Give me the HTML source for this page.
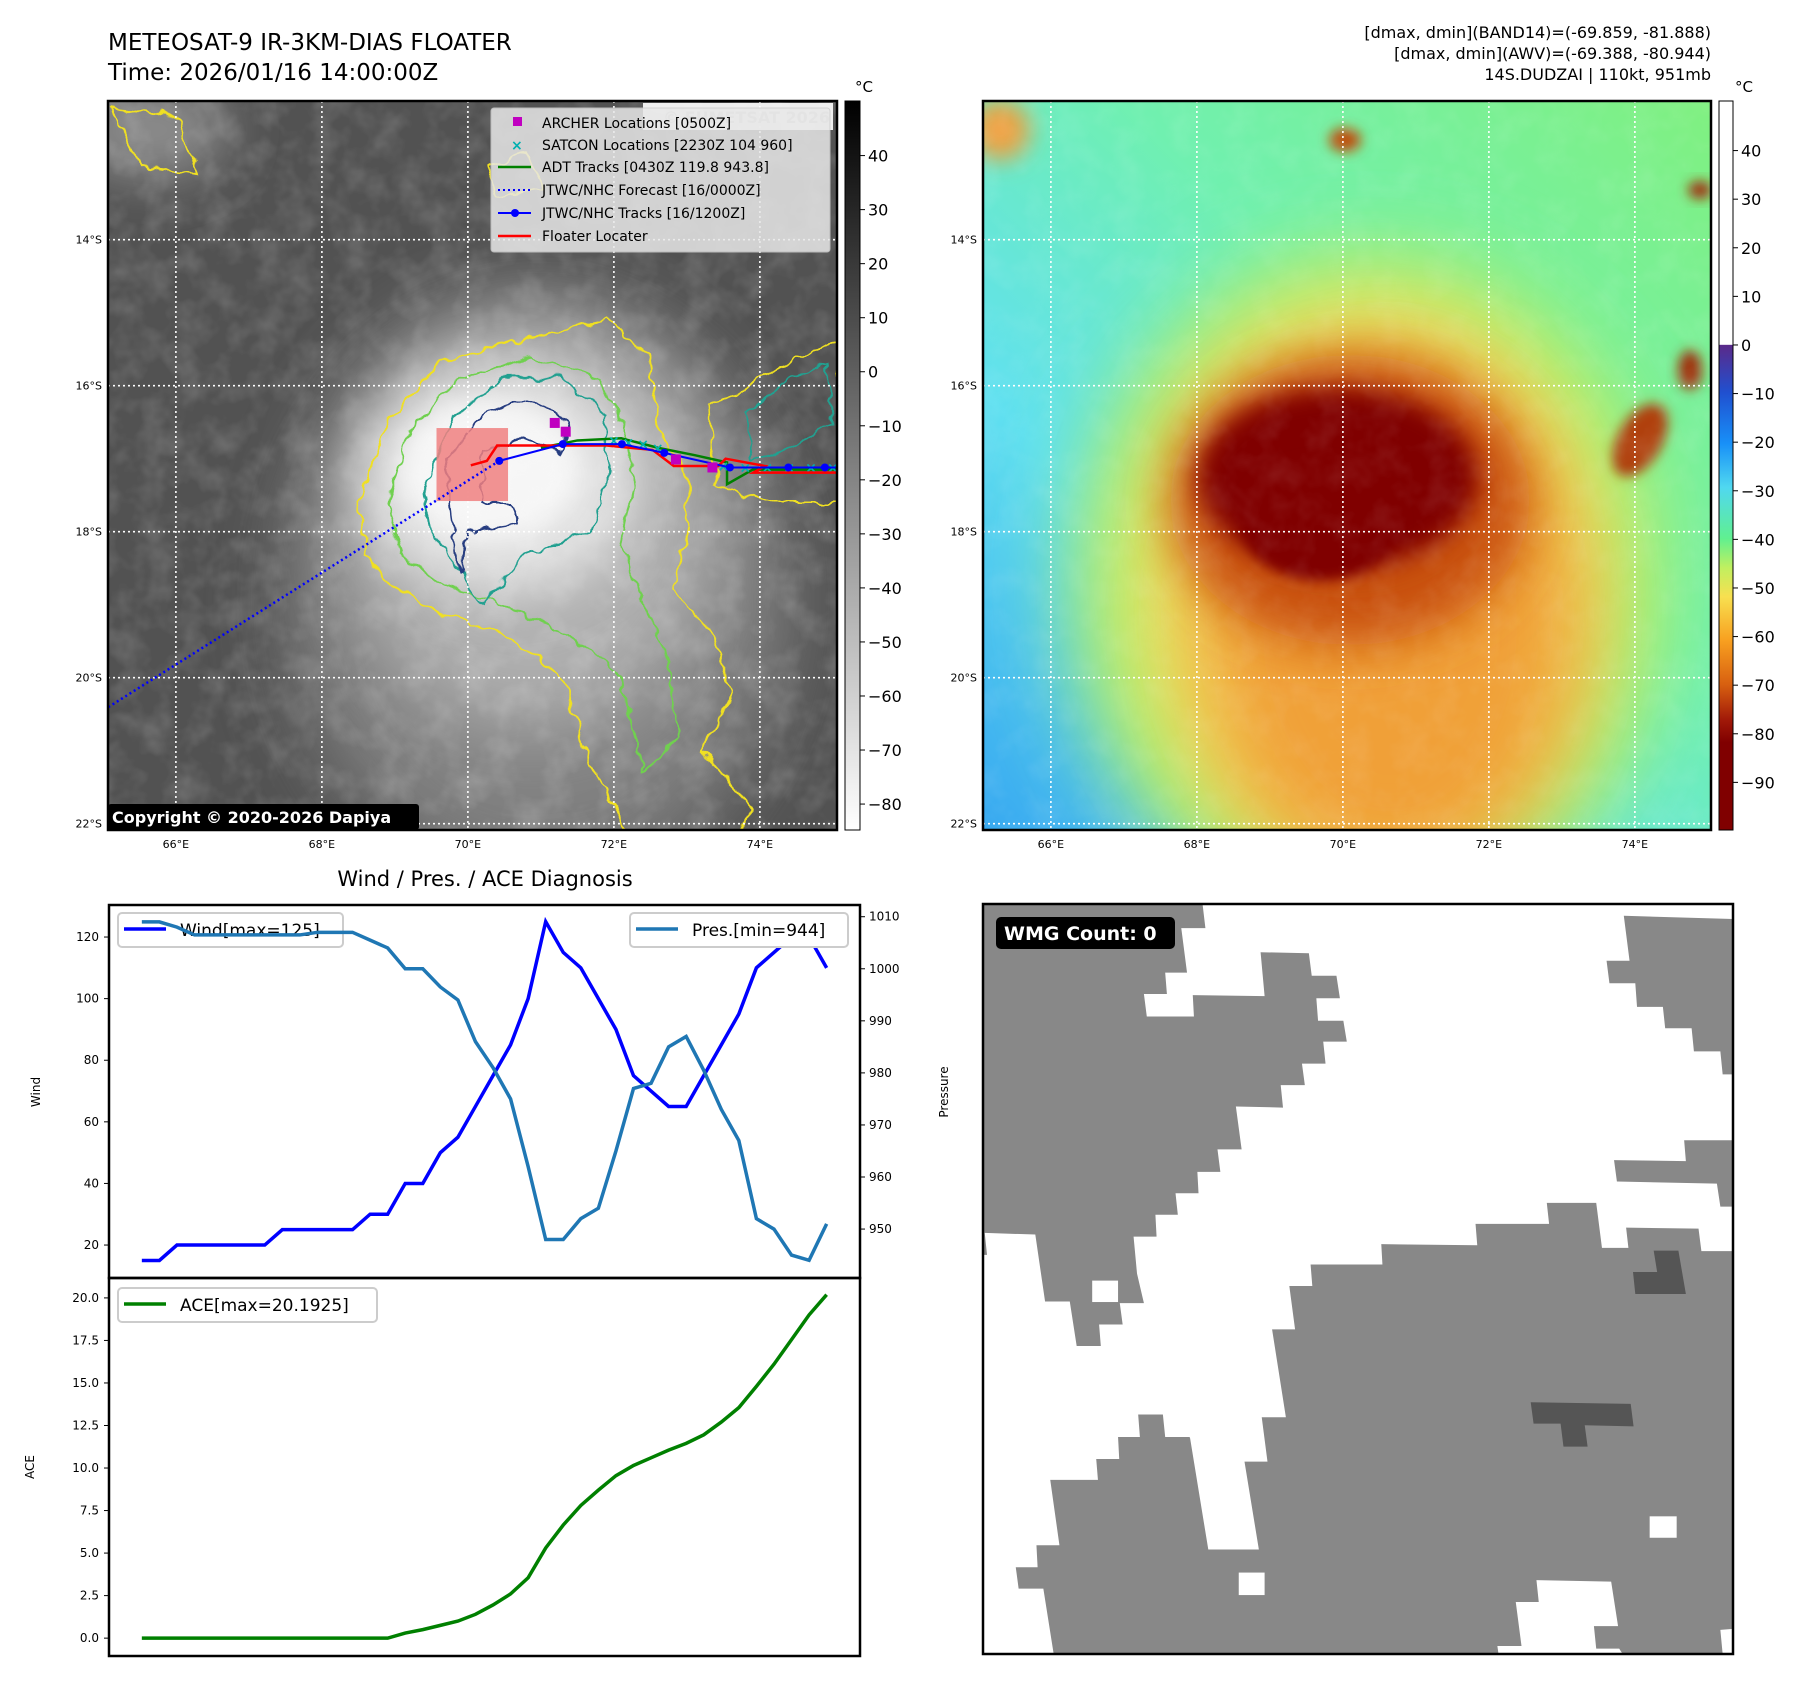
<!DOCTYPE html>
<html><head><meta charset="utf-8">
<style>
html,body{margin:0;padding:0;background:#fff;}
svg{display:block;font-family:"DejaVu Sans","Liberation Sans",sans-serif;}
</style></head>
<body>
<svg id="fig" width="1801" height="1690" viewBox="0 0 1801 1690" xmlns="http://www.w3.org/2000/svg">
<defs>
  <filter id="b40" x="-50%" y="-50%" width="200%" height="200%"><feGaussianBlur stdDeviation="40"/></filter>
  <filter id="b25" x="-50%" y="-50%" width="200%" height="200%"><feGaussianBlur stdDeviation="25"/></filter>
  <filter id="b12" x="-50%" y="-50%" width="200%" height="200%"><feGaussianBlur stdDeviation="12"/></filter>
  <filter id="b6" x="-50%" y="-50%" width="200%" height="200%"><feGaussianBlur stdDeviation="6"/></filter>
  <filter id="noise" x="0" y="0" width="100%" height="100%">
    <feTurbulence type="fractalNoise" baseFrequency="0.035" numOctaves="3" seed="4"/>
    <feColorMatrix type="matrix" values="0 0 0 0 1  0 0 0 0 1  0 0 0 0 1  0 0 0 0.9 -0.35"/>
  </filter>
  <filter id="wig" x="-10%" y="-10%" width="120%" height="120%">
    <feTurbulence type="fractalNoise" baseFrequency="0.06" numOctaves="2" seed="7" result="t"/>
    <feDisplacementMap in="SourceGraphic" in2="t" scale="14" xChannelSelector="R" yChannelSelector="G"/>
  </filter>
  <clipPath id="clip1"><rect x="108" y="101" width="729" height="729"/></clipPath>
  <clipPath id="clip2"><rect x="983" y="101" width="728" height="729"/></clipPath>
  <linearGradient id="cbGray" x1="0" y1="0" x2="0" y2="1">
    <stop offset="0" stop-color="#000"/><stop offset="1" stop-color="#fff"/>
  </linearGradient>
  <linearGradient id="cbColor" x1="0" y1="0" x2="0" y2="1">
    <stop offset="0" stop-color="#fff"/>
    <stop offset="0.334" stop-color="#fff"/>
    <stop offset="0.335" stop-color="#5a2a8a"/>
    <stop offset="0.40" stop-color="#2050d0"/>
    <stop offset="0.47" stop-color="#1890f8"/>
    <stop offset="0.53" stop-color="#50d8f0"/>
    <stop offset="0.60" stop-color="#60f090"/>
    <stop offset="0.64" stop-color="#c0f060"/>
    <stop offset="0.68" stop-color="#f8e050"/>
    <stop offset="0.74" stop-color="#f8a020"/>
    <stop offset="0.80" stop-color="#d86010"/>
    <stop offset="0.85" stop-color="#a01808"/>
    <stop offset="0.88" stop-color="#800000"/>
    <stop offset="1" stop-color="#800000"/>
  </linearGradient>
  <linearGradient id="bg2" x1="0" y1="1" x2="1" y2="0">
    <stop offset="0" stop-color="#38a8f0"/>
    <stop offset="0.3" stop-color="#60e0f0"/>
    <stop offset="0.6" stop-color="#70f0b0"/>
    <stop offset="1" stop-color="#80f080"/>
  </linearGradient>
</defs>

<!-- Titles -->
<text x="108" y="50" font-size="23">METEOSAT-9 IR-3KM-DIAS FLOATER</text>
<text x="108" y="80" font-size="23">Time: 2026/01/16 14:00:00Z</text>
<g font-size="16" text-anchor="end">
  <text x="1711" y="38">[dmax, dmin](BAND14)=(-69.859, -81.888)</text>
  <text x="1711" y="59">[dmax, dmin](AWV)=(-69.388, -80.944)</text>
  <text x="1711" y="80">14S.DUDZAI | 110kt, 951mb</text>
</g>

<!-- Map 1 imagery -->
<g id="map1" clip-path="url(#clip1)">
  <rect x="108" y="101" width="729" height="729" fill="#525252"/>
  <ellipse cx="150" cy="130" rx="80" ry="50" fill="#8a8a8a" filter="url(#b25)"/>
  <ellipse cx="540" cy="600" rx="250" ry="290" fill="#858585" filter="url(#b40)" opacity="0.9"/>
  <ellipse cx="530" cy="520" rx="190" ry="210" fill="#b0b0b0" filter="url(#b40)"/>
  <ellipse cx="500" cy="480" rx="140" ry="115" fill="#e2e2e2" filter="url(#b25)"/>
  <ellipse cx="490" cy="470" rx="90" ry="70" fill="#f6f6f6" filter="url(#b12)"/>
  <rect x="108" y="101" width="729" height="729" filter="url(#noise)" opacity="0.35"/>
  <g id="contours" fill="none" stroke-width="2" filter="url(#wig)"></g>
  <g id="grid1" stroke="#fff" stroke-width="1.6" stroke-dasharray="2,3"></g>
  <rect id="pinkbox" fill="#f08080" opacity="0.85"/>
  <g id="tracks"></g>
</g>
<rect x="108" y="101" width="729" height="729" fill="none" stroke="#000" stroke-width="2.5"/>
<rect x="643" y="103" width="190" height="27" fill="#fff" opacity="0.9"/>
<text x="830" y="123" font-size="16" font-weight="bold" fill="#ccc" text-anchor="end">© EUMETSAT 2026</text>
<g>
  <rect x="491" y="108" width="339" height="144" rx="3" fill="#e8e8e8" opacity="0.85" stroke="#ccc"/>
  <rect x="513" y="117" width="9" height="9" fill="#c000c0"/>
  <text x="542" y="128" font-size="14">ARCHER Locations [0500Z]</text>
  <text x="511" y="150" font-size="14" fill="#00b0b0" font-weight="bold">×</text>
  <text x="542" y="150" font-size="14">SATCON Locations [2230Z 104 960]</text>
  <line x1="498" y1="167" x2="531" y2="167" stroke="#008000" stroke-width="2.5"/>
  <text x="542" y="172" font-size="14">ADT Tracks [0430Z 119.8 943.8]</text>
  <line x1="498" y1="190" x2="531" y2="190" stroke="#0000ff" stroke-width="2" stroke-dasharray="2,3"/>
  <text x="542" y="195" font-size="14">JTWC/NHC Forecast [16/0000Z]</text>
  <line x1="498" y1="213" x2="531" y2="213" stroke="#0000ff" stroke-width="2"/>
  <circle cx="515" cy="213" r="4" fill="#0000ff"/>
  <text x="542" y="218" font-size="14">JTWC/NHC Tracks [16/1200Z]</text>
  <line x1="498" y1="236" x2="531" y2="236" stroke="#ff0000" stroke-width="2.5"/>
  <text x="542" y="241" font-size="14">Floater Locater</text>
</g>
<rect x="108" y="804" width="311" height="26" rx="3" fill="#000"/>
<text x="112" y="823" font-size="16" font-weight="bold" fill="#fff">Copyright © 2020-2026 Dapiya</text>
<rect x="845" y="101" width="15" height="729" fill="url(#cbGray)" stroke="#000" stroke-width="1"/>
<text x="855" y="92" font-size="15">°C</text>
<g id="cb1ticks" font-size="16"></g>

<!-- Map 2 imagery -->
<g id="map2" clip-path="url(#clip2)">
  <rect x="983" y="101" width="728" height="729" fill="url(#bg2)"/>
  <ellipse cx="1000" cy="130" rx="30" ry="30" fill="#f0a040" filter="url(#b12)"/>
  <ellipse cx="1370" cy="590" rx="300" ry="340" fill="#a8f070" filter="url(#b40)"/>
  <ellipse cx="1370" cy="580" rx="240" ry="290" fill="#f0e060" filter="url(#b40)"/>
  <ellipse cx="1390" cy="620" rx="190" ry="260" fill="#f0a038" filter="url(#b40)"/>
  <ellipse cx="1350" cy="500" rx="180" ry="145" fill="#c85010" filter="url(#b25)"/>
  <ellipse cx="1338" cy="478" rx="140" ry="90" fill="#800000" filter="url(#b12)"/>
  <ellipse cx="1320" cy="520" rx="80" ry="60" fill="#800000" filter="url(#b6)"/>
  <ellipse cx="1640" cy="440" rx="22" ry="40" fill="#b04010" filter="url(#b6)" transform="rotate(30 1640 440)"/>
  <ellipse cx="1690" cy="370" rx="12" ry="20" fill="#a03010" filter="url(#b6)"/>
  <ellipse cx="1345" cy="140" rx="16" ry="12" fill="#c05010" filter="url(#b6)"/>
  <ellipse cx="1700" cy="190" rx="12" ry="9" fill="#a03010" filter="url(#b6)"/>
  <rect x="983" y="101" width="728" height="729" filter="url(#noise)" opacity="0.18"/>
  <g id="grid2" stroke="#fff" stroke-width="1.6" stroke-dasharray="2,3"></g>
</g>
<rect x="983" y="101" width="728" height="729" fill="none" stroke="#000" stroke-width="2.5"/>
<rect x="1719" y="101" width="14" height="729" fill="url(#cbColor)" stroke="#000" stroke-width="1"/>
<text x="1735" y="92" font-size="15">°C</text>
<g id="cb2ticks" font-size="16"></g>
<g id="geoLabels" font-size="11"></g>

<text x="485" y="886" font-size="21" text-anchor="middle">Wind / Pres. / ACE Diagnosis</text>
<g id="windPanel"></g>
<g id="acePanel"></g>

<g>
  <svg x="983" y="904" width="750" height="750" viewBox="145 100 1305 1400" preserveAspectRatio="none">
    <rect x="145" y="100" width="1305" height="1400" fill="#fff"/>
    <g fill="#888">
      <polygon points="145,100 527,100 532,145 490,145 500,228 462,228 465,268 425,268 430,310 512,310 510,270 635,272 628,190 712,192 717,234 760,234 766,276 725,276 728,318 772,318 778,357 737,357 741,398 700,398 705,438 663,438 667,480 585,478 595,558 553,558 558,600 518,600 520,640 480,640 484,680 445,680 447,721 407,721 413,790 425,845 383,845 388,885 347,885 350,925 308,925 296,842 253,842 236,717 148,714 152,755 145,755"/>
      <polygon points="1260,122 1450,128 1450,418 1432,418 1428,375 1382,375 1378,332 1332,332 1328,292 1283,292 1280,248 1235,248 1230,206 1270,206"/>
      <polygon points="1365,541 1450,541 1450,665 1428,665 1422,622 1248,618 1243,578 1368,580"/>
      <polygon points="1126,658 1212,658 1222,742 1268,742 1264,704 1390,706 1395,748 1450,748 1450,1453 1428,1455 1432,1500 1258,1500 1252,1490 1212,1490 1208,1448 1250,1448 1238,1365 1108,1362 1112,1403 1072,1403 1082,1485 1040,1485 1042,1500 268,1500 250,1378 207,1378 202,1338 240,1338 238,1297 278,1297 262,1175 345,1175 342,1136 382,1136 380,1095 418,1095 415,1053 458,1053 462,1095 505,1095 537,1305 625,1305 600,1141 640,1141 630,1058 672,1058 648,894 688,894 678,813 718,813 715,773 840,773 838,735 1005,737 1002,697 1130,697"/>
    </g>
    <g fill="#fff">
      <rect x="335" y="803" width="45" height="40"/>
      <rect x="1305" y="1243" width="47" height="40"/>
      <rect x="590" y="1348" width="45" height="42"/>
      <polygon points="500,1057 543,1057 547,1097 505,1097"/>
    </g>
    <g fill="#555">
      <polygon points="1312,747 1355,747 1368,828 1280,828 1276,787 1318,787"/>
      <polygon points="1098,1030 1272,1033 1277,1075 1192,1073 1197,1113 1155,1113 1150,1070 1103,1070"/>
    </g>
  </svg>
  <rect x="983" y="904" width="750" height="750" fill="none" stroke="#000" stroke-width="2.5"/>
  <rect x="996" y="917" width="179" height="32" rx="5" fill="#000"/>
  <text x="1004" y="940" font-size="19" font-weight="bold" fill="#fff">WMG Count: 0</text>
</g>

<script>
const windValues = [15,15,20,20,20,20,20,20,25,25,25,25,25,30,30,40,40,50,55,65,75,85,100,125,115,110,100,90,75,70,65,65,75,85,95,110,115,120,120,110];
const presValues = [1009,1009,1008,1006.5,1006.5,1006.5,1006.5,1006.5,1006.5,1006.5,1007,1007,1007,1005.5,1004,1000,1000,996.5,994,986,981,975,962,948,948,952,954,965,977,978,985,987,980.5,973,967,952,950,945,944,951];
const aceValues = [0,0,0,0,0,0,0,0,0,0,0,0,0,0,0,0.3,0.5,0.75,1.0,1.4,1.95,2.6,3.55,5.3,6.65,7.8,8.7,9.55,10.15,10.6,11.05,11.45,11.95,12.7,13.55,14.8,16.1,17.55,19.0,20.19];
const windTicks = [20,40,60,80,100,120];
const presTicks = [950,960,970,980,990,1000,1010];
const aceTicks = [0,2.5,5,7.5,10,12.5,15,17.5,20];
const jtwcLon = [70.43,71.30,72.11,72.69,73.59,74.39,74.89,75.1];
const jtwcLat = [17.03,16.80,16.80,16.92,17.12,17.12,17.12,17.12];
const fcstLon = [70.43,65.0];
const fcstLat = [17.03,20.45];
const floaterLon = [70.04,70.26,70.40,71.27,71.90,72.53,72.82,73.43,73.53,74.07,73.91,75.1];
const floaterLat = [17.09,17.03,16.82,16.82,16.82,16.88,17.10,17.10,17.00,17.10,17.19,17.19];
const adtLon = [71.0,71.5,72.1,72.6,73.1,73.55,73.55,73.9,74.5,75.1];
const adtLat = [16.85,16.75,16.72,16.85,16.95,17.05,17.35,17.15,17.15,17.15];
const archerLon = [71.19,71.34,72.85,73.35];
const archerLat = [16.51,16.63,17.01,17.12];
const satconLon = [72.0,72.2,72.4,72.6,73.5,73.8,74.1,74.4,74.7,75.0];
const satconLat = [16.75,16.78,16.8,16.85,17.1,17.12,17.12,17.12,17.12,17.12];
const cb1Ticks = [40,30,20,10,0,-10,-20,-30,-40,-50,-60,-70,-80];
const cb2Ticks = [40,30,20,10,0,-10,-20,-30,-40,-50,-60,-70,-80,-90];
const lonTicks = [66,68,70,72,74];
const latTicks = [14,16,18,20,22];

const NS = 'http://www.w3.org/2000/svg';
function mk(tag, attrs, parent){const e=document.createElementNS(NS,tag);for(const k in attrs)e.setAttribute(k,attrs[k]);parent.appendChild(e);return e;}
const fmtMinus = v => (v<0?'\u2212'+Math.abs(v):String(v));

const X0a=108, X0b=983, Y0=101, PPD=73;
const lonX = (lon,x0)=> x0 + (lon-65.07)*PPD;
const latY = lat => Y0 + (lat-12.1)*PPD;

[['grid1',X0a],['grid2',X0b]].forEach(([id,x0])=>{
  const g=document.getElementById(id);
  lonTicks.forEach(l=>{const ln=mk('line',{x1:lonX(l,x0),x2:lonX(l,x0),y1:Y0,y2:Y0+729},g);
    
    });
  latTicks.forEach(l=>{const ln=mk('line',{x1:x0,x2:x0+729,y1:latY(l),y2:latY(l)},g);
    
    });
});
const gl=document.getElementById('geoLabels');
[X0a,X0b].forEach(x0=>{
  lonTicks.forEach(l=>{const t=mk('text',{x:lonX(l,x0),y:Y0+729+18,'text-anchor':'middle'},gl);t.textContent=l+'°E';
    
    });
  latTicks.forEach(l=>{const t=mk('text',{x:x0-6,y:latY(l)+4,'text-anchor':'end'},gl);t.textContent=l+'°S';
    
    });
});
function cbTicks(id,x,ticks,top,bot){
  const g=document.getElementById(id);
  const y=v=>101+(top-v)/(top-bot)*729;
  ticks.forEach(v=>{mk('line',{x1:x,x2:x+5,y1:y(v),y2:y(v),stroke:'#000'},g);
    const t=mk('text',{x:x+8,y:y(v)+6},g);t.textContent=fmtMinus(v);
    
    });
}
cbTicks('cb1ticks',860,cb1Ticks,50.1,-84.8);
cbTicks('cb2ticks',1733,cb2Ticks,50.2,-99.8);

const contourShapes = [
  {c:'#f0e020',p:[[68.5,17.6],[68.9,16.5],[69.6,15.7],[70.6,15.4],[71.0,15.3],[71.9,15.1],[72.5,15.6],[72.6,16.6],[73.0,17.2],[73.0,18.0],[72.8,18.8],[73.4,19.5],[73.6,20.3],[73.2,21.0],[73.9,21.8],[73.6,22.3],[72.3,22.3],[71.6,21.0],[71.3,20.0],[70.5,19.4],[69.6,19.1],[68.9,18.7],[68.6,18.3]]},
  {c:'#70d050',p:[[68.9,17.6],[69.2,16.6],[69.9,15.9],[70.9,15.6],[71.8,15.9],[72.1,16.5],[72.3,17.3],[72.1,18.2],[72.4,19.0],[72.7,19.6],[72.9,20.8],[72.4,21.3],[72.1,20.0],[71.5,19.5],[70.5,19.0],[69.6,18.7],[69.1,18.3]]},
  {c:'#20a090',p:[[69.4,17.4],[69.8,16.4],[70.5,15.9],[71.3,15.9],[71.9,16.4],[71.9,17.3],[71.7,18.0],[70.8,18.3],[70.2,19.0],[69.8,18.4],[69.5,18.0]]},
  {c:'#283c80',p:[[69.7,17.0],[70.2,16.4],[70.8,16.2],[71.4,16.5],[71.3,16.9],[70.7,16.7],[70.2,16.9],[70.2,17.6],[70.6,17.6],[70.7,17.9],[70.0,18.0],[69.9,18.6],[69.8,18.0]]},
  {c:'#f0e020',p:[[73.3,16.3],[74.2,15.8],[74.8,15.5],[75.1,15.4],[75.1,17.6],[74.2,17.6],[73.4,17.4]]},
  {c:'#20a090',p:[[73.8,16.4],[74.4,15.9],[74.9,15.7],[75.0,16.5],[74.3,16.9],[73.9,17.0]]},
  {c:'#f0e020',p:[[70.3,13.0],[70.8,12.8],[71.0,13.3],[70.4,13.4]]},
  {c:'#f0e020',p:[[65.1,12.2],[66.0,12.3],[66.3,13.1],[65.5,13.0]]}
];
const cg=document.getElementById('contours');
contourShapes.forEach(s=>{
  const pts=s.p.map(q=>lonX(q[0],X0a)+','+latY(q[1])).join(' ');
  const e=mk('polygon',{points:pts,stroke:s.c},cg);
  
  
});

const pb=document.getElementById('pinkbox');
pb.setAttribute('x',lonX(69.57,X0a));pb.setAttribute('y',latY(16.58));
pb.setAttribute('width',(70.55-69.57)*PPD);pb.setAttribute('height',(17.58-16.58)*PPD);

const tg=document.getElementById('tracks');
function poly(lons,lats,attrs,name){
  const pts=lons.map((l,i)=>lonX(l,X0a)+','+latY(lats[i])).join(' ');
  const e=mk('polyline',Object.assign({points:pts,fill:'none'},attrs),tg);
  
  
  return e;
}
poly(fcstLon,fcstLat,{stroke:'#0000ff','stroke-width':2.5,'stroke-dasharray':'2,3'},'jtwc-forecast-line');
poly(adtLon,adtLat,{stroke:'#008000','stroke-width':2.5},'adt-track-line');
satconLon.forEach((l,i)=>{const t=mk('text',{x:lonX(l,X0a),y:latY(satconLat[i])+5,'text-anchor':'middle','font-size':14,'font-weight':'bold',fill:'#00b0b0'},tg);t.textContent='×';
  
  });
poly(floaterLon,floaterLat,{stroke:'#ff0000','stroke-width':2.5},'floater-locater-line');
poly(jtwcLon,jtwcLat,{stroke:'#0000ff','stroke-width':2},'jtwc-track-line');
jtwcLon.forEach((l,i)=>{const c=mk('circle',{cx:lonX(l,X0a),cy:latY(jtwcLat[i]),r:4,fill:'#0000ff'},tg);
  
  });
archerLon.forEach((l,i)=>{const r=mk('rect',{x:lonX(l,X0a)-5,y:latY(archerLat[i])-5,width:10,height:10,fill:'#c000c0'},tg);
  
  });

const PX0=109, PX1=860, WY0=905, WY1=1278, AY1=1656;
const xw = i => PX0 + (i+1.87)/(42.77)*(PX1-PX0);
const yWind = v => WY0 + (130.4-v)/(121.1)*(WY1-WY0);
const yPres = p => WY0 + (1012.25-p)/(71.65)*(WY1-WY0);
const yAce = a => WY1 + (21.17-a)/(22.22)*(AY1-WY1);
const wp=document.getElementById('windPanel');
const ap=document.getElementById('acePanel');

const wl=mk('g',{},wp);


mk('rect',{x:118,y:913,width:225,height:34,rx:4,fill:'#fff',stroke:'#ccc','stroke-width':2},wl);
mk('line',{x1:124,x2:166,y1:929,y2:929,stroke:'#0000ff','stroke-width':3.5},wl);
const wlt=mk('text',{x:180,y:936,'font-size':17},wl);wlt.textContent='Wind[max=125]';

const windLine=mk('polyline',{points:windValues.map((v,i)=>xw(i)+','+yWind(v)).join(' '),fill:'none',stroke:'#0000ff','stroke-width':3.5},wp);


const presLine=mk('polyline',{points:presValues.map((v,i)=>xw(i)+','+yPres(v)).join(' '),fill:'none',stroke:'#1f77b4','stroke-width':3.5},wp);



const pl=mk('g',{},wp);


mk('rect',{x:630,y:913,width:218,height:34,rx:4,fill:'#fff',stroke:'#ccc','stroke-width':2},pl);
mk('line',{x1:636,x2:678,y1:929,y2:929,stroke:'#1f77b4','stroke-width':3.5},pl);
const plt=mk('text',{x:692,y:936,'font-size':17},pl);plt.textContent='Pres.[min=944]';

mk('rect',{x:PX0,y:WY0,width:PX1-PX0,height:WY1-WY0,fill:'none',stroke:'#000','stroke-width':2.5},wp);
windTicks.forEach(v=>{mk('line',{x1:PX0-5,x2:PX0,y1:yWind(v),y2:yWind(v),stroke:'#000'},wp);
  const t=mk('text',{x:PX0-10,y:yWind(v)+4,'font-size':12,'text-anchor':'end'},wp);t.textContent=v;
  
  });
presTicks.forEach(v=>{mk('line',{x1:PX1,x2:PX1+5,y1:yPres(v),y2:yPres(v),stroke:'#000'},wp);
  const t=mk('text',{x:PX1+9,y:yPres(v)+4,'font-size':12},wp);t.textContent=v;
  
  });
const wyl=mk('text',{x:40,y:1092,'font-size':12,'text-anchor':'middle',transform:'rotate(-90 40 1092)'},wp);wyl.textContent='Wind';


const pyl=mk('text',{x:948,y:1092,'font-size':12,'text-anchor':'middle',transform:'rotate(-90 948 1092)'},wp);pyl.textContent='Pressure';



const aceLine=mk('polyline',{points:aceValues.map((v,i)=>xw(i)+','+yAce(v)).join(' '),fill:'none',stroke:'#008000','stroke-width':3.5},ap);


const al=mk('g',{},ap);


mk('rect',{x:118,y:1288,width:259,height:34,rx:4,fill:'#fff',stroke:'#ccc','stroke-width':2},al);
mk('line',{x1:124,x2:166,y1:1304,y2:1304,stroke:'#008000','stroke-width':3.5},al);
const alt=mk('text',{x:180,y:1311,'font-size':17},al);alt.textContent='ACE[max=20.1925]';
mk('rect',{x:PX0,y:WY1,width:PX1-PX0,height:AY1-WY1,fill:'none',stroke:'#000','stroke-width':2.5},ap);
aceTicks.forEach(v=>{mk('line',{x1:PX0-5,x2:PX0,y1:yAce(v),y2:yAce(v),stroke:'#000'},ap);
  const t=mk('text',{x:PX0-10,y:yAce(v)+4,'font-size':12,'text-anchor':'end'},ap);t.textContent=v.toFixed(1);
  
  });
const ayl=mk('text',{x:34,y:1467,'font-size':12,'text-anchor':'middle',transform:'rotate(-90 34 1467)'},ap);ayl.textContent='ACE';


</script>
</svg>
</body></html>
